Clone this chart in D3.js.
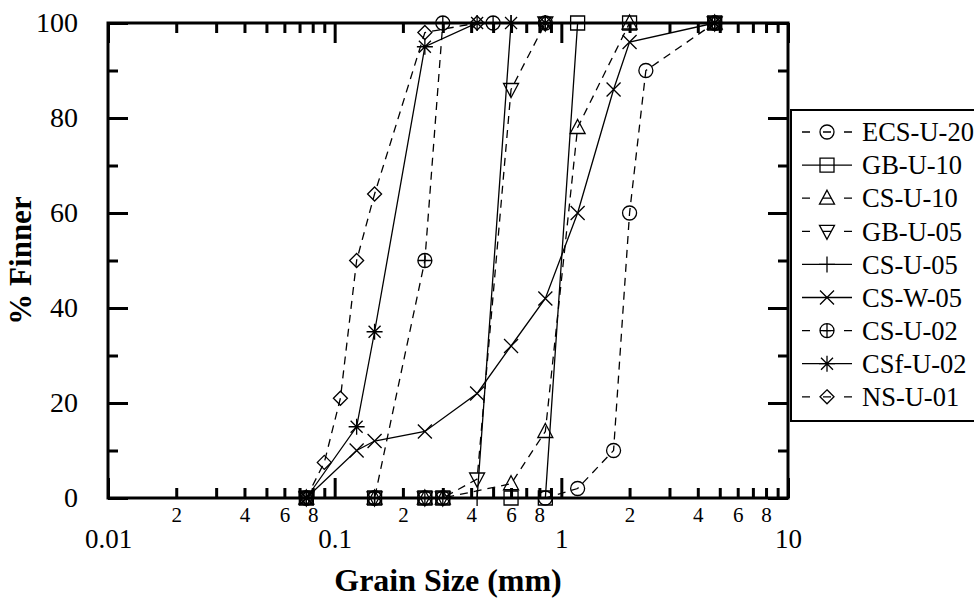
<!DOCTYPE html>
<html>
<head>
<meta charset="utf-8">
<script src="https://cdn.jsdelivr.net/npm/d3@7"></script>
<style>
  body { margin: 0; background: #fff; }
  svg { display: block; font-family: "Liberation Serif", "Times New Roman", serif; }
</style>
</head>
<body>
<div id="chart"></div>
<script>
// sieve size (mm), % finer for each sample
var ecsU20  = [[0.075,0],[0.15,0],[0.25,0],[0.3,0],[0.85,0],[1.18,2],[1.7,10],[2.0,60],[2.36,90],[4.75,100]];
var gbU10   = [[0.075,0],[0.15,0],[0.25,0],[0.3,0],[0.6,0],[0.85,0],[1.18,100],[2.0,100],[4.75,100]];
var csU10   = [[0.075,0],[0.15,0],[0.25,0],[0.3,0],[0.6,3],[0.85,14],[1.18,78],[2.0,100],[4.75,100]];
var gbU05   = [[0.075,0],[0.15,0],[0.25,0],[0.3,0],[0.425,4],[0.6,86],[0.85,100],[4.75,100]];
var csU05   = [[0.075,0],[0.15,0],[0.25,0],[0.3,0],[0.425,0],[0.6,100],[0.85,100],[4.75,100]];
var csW05   = [[0.075,0],[0.125,10],[0.15,12],[0.25,14],[0.425,22],[0.6,32],[0.85,42],[1.18,60],[1.7,86],[2.0,96],[4.75,100]];
var csU02   = [[0.075,0],[0.15,0],[0.25,50],[0.3,100],[0.5,100],[0.85,100],[4.75,100]];
var csfU02  = [[0.075,0],[0.125,15],[0.15,35],[0.25,95],[0.425,100],[0.6,100],[0.85,100],[4.75,100]];
var nsU01   = [[0.075,0],[0.09,7.5],[0.106,21],[0.125,50],[0.15,64],[0.25,98],[0.425,100],[0.85,100],[4.75,100]];

var seriesNames = ["ECS-U-20","GB-U-10","CS-U-10","GB-U-05","CS-U-05","CS-W-05","CS-U-02","CSf-U-02","NS-U-01"];
var seriesData  = [ecsU20, gbU10, csU10, gbU05, csU05, csW05, csU02, csfU02, nsU01];
var seriesMarks = ["circle","square","triUp","triDown","plus","times","circlePlus","asterisk","diamond"];
var seriesDash  = [true, false, true, true, false, false, true, false, true];

var xMajor = [0.01, 0.1, 1, 10];
var yMajor = [0, 20, 40, 60, 80, 100];
var yMinor = [10, 30, 50, 70, 90];

var width = 974, height = 600;
var plotL = 108, plotR = 788, plotT = 23, plotB = 498;

var svg = d3.select("#chart").append("svg")
  .attr("width", width)
  .attr("height", height);

var x = d3.scaleLog().domain([0.01, 10]).range([plotL, plotR]);
var y = d3.scaleLinear().domain([0, 100]).range([plotB, plotT]);

// minor ticks 2..9 in every decade
var xMinor = [];
xMajor.slice(0, -1).forEach(function(d){
  for (var k = 2; k <= 9; k++) xMinor.push(d * k);
});

function marker(type) {
  var r = 7;
  var circ = "M" + (-r) + ",0a" + r + "," + r + " 0 1,0 " + (2*r) + ",0a" + r + "," + r + " 0 1,0 " + (-2*r) + ",0";
  switch (type) {
    case "circle": return circ;
    case "circlePlus": return circ + "M-7,0H7M0,-7V7";
    case "square": return "M-7,-7H7V7H-7Z";
    case "triUp": return "M0,-8L7.5,6L-7.5,6Z";
    case "triDown": return "M0,8L7.5,-6L-7.5,-6Z";
    case "plus": return "M-8,0H8M0,-8V8";
    case "times": return "M-7,-7L7,7M7,-7L-7,7";
    case "asterisk": return "M-6,-6L6,6M6,-6L-6,6M-8,0H8M0,-8V8";
    case "diamond": return "M0,-7L7,0L0,7L-7,0Z";
  }
}

// axes
function styleAxis(g) {
  g.select(".domain").remove();
  g.selectAll(".tick line").attr("stroke", "#000").attr("stroke-width", 3);
}

svg.append("g").attr("transform", "translate(0," + plotB + ")")
  .call(d3.axisBottom(x).tickValues(xMinor).tickSize(-10).tickPadding(9)
    .tickFormat(function(d){
      var m = Math.round(d / Math.pow(10, Math.floor(Math.log10(d) + 1e-9)));
      return (m % 2 === 0) ? m : "";
    }))
  .call(styleAxis)
  .selectAll("text").attr("font-size", 21).attr("fill", "#000")
  .attr("font-family", "Liberation Serif");

svg.append("g").attr("transform", "translate(0," + plotB + ")")
  .call(d3.axisBottom(x).tickValues(xMajor).tickSize(-20).tickPadding(31)
    .tickFormat(function(d){ return String(d); }))
  .call(styleAxis)
  .selectAll("text").attr("font-size", 27).attr("fill", "#000")
  .attr("font-family", "Liberation Serif");

svg.append("g").attr("transform", "translate(0," + plotT + ")")
  .call(d3.axisTop(x).tickValues(xMinor).tickSize(-10).tickFormat(""))
  .call(styleAxis);
svg.append("g").attr("transform", "translate(0," + plotT + ")")
  .call(d3.axisTop(x).tickValues(xMajor).tickSize(-20).tickFormat(""))
  .call(styleAxis);

svg.append("g").attr("transform", "translate(" + plotL + ",0)")
  .call(d3.axisLeft(y).tickValues(yMajor).tickSize(-20).tickPadding(30))
  .call(styleAxis)
  .selectAll("text").attr("font-size", 28).attr("fill", "#000")
  .attr("font-family", "Liberation Serif");
svg.append("g").attr("transform", "translate(" + plotL + ",0)")
  .call(d3.axisLeft(y).tickValues(yMinor).tickSize(-10).tickFormat(""))
  .call(styleAxis);

svg.append("g").attr("transform", "translate(" + plotR + ",0)")
  .call(d3.axisRight(y).tickValues(yMajor).tickSize(-20).tickFormat(""))
  .call(styleAxis);
svg.append("g").attr("transform", "translate(" + plotR + ",0)")
  .call(d3.axisRight(y).tickValues(yMinor).tickSize(-10).tickFormat(""))
  .call(styleAxis);

svg.append("rect")
  .attr("x", plotL).attr("y", plotT)
  .attr("width", plotR - plotL).attr("height", plotB - plotT)
  .attr("fill", "none").attr("stroke", "#000").attr("stroke-width", 3);

// series
var line = d3.line()
  .x(function(d){ return x(d[0]); })
  .y(function(d){ return y(d[1]); });

seriesData.forEach(function(data, i){
  svg.append("path")
    .datum(data)
    .attr("d", line)
    .attr("fill", "none")
    .attr("stroke", "#000")
    .attr("stroke-width", 1.3)
    .attr("stroke-dasharray", seriesDash[i] ? "8,6" : null);

  svg.selectAll(".m" + i)
    .data(data).enter()
    .append("path").attr("class", "m" + i)
    .attr("transform", function(d){ return "translate(" + x(d[0]) + "," + y(d[1]) + ")"; })
    .attr("d", marker(seriesMarks[i]))
    .attr("fill", "none")
    .attr("stroke", "#000")
    .attr("stroke-width", 1.3);
});

// legend
var lg = svg.append("g");
lg.append("rect")
  .attr("x", 791).attr("y", 110)
  .attr("width", 200).attr("height", 311)
  .attr("fill", "#fff").attr("stroke", "#000").attr("stroke-width", 2);

seriesNames.forEach(function(name, i){
  var cy = 132 + i * 33.1;
  lg.append("line")
    .attr("x1", 802).attr("x2", 852)
    .attr("y1", cy).attr("y2", cy)
    .attr("stroke", "#000").attr("stroke-width", 1.3)
    .attr("stroke-dasharray", seriesDash[i] ? "8,13,8,13,8" : null);
  lg.append("path")
    .attr("transform", "translate(827," + cy + ")")
    .attr("d", marker(seriesMarks[i]))
    .attr("fill", "none").attr("stroke", "#000").attr("stroke-width", 1.3);
  lg.append("text")
    .attr("x", 862).attr("y", cy)
    .attr("dy", "0.35em")
    .attr("font-size", 26.5)
    .text(name);
});

// axis titles
svg.append("text")
  .attr("x", (plotL + plotR) / 2).attr("y", 591)
  .attr("text-anchor", "middle")
  .attr("font-size", 32).attr("font-weight", "bold")
  .text("Grain Size (mm)");

svg.append("text")
  .attr("transform", "translate(31," + ((plotT + plotB) / 2) + ") rotate(-90)")
  .attr("text-anchor", "middle")
  .attr("font-size", 31).attr("font-weight", "bold")
  .text("% Finner");
</script>
</body>
</html>
